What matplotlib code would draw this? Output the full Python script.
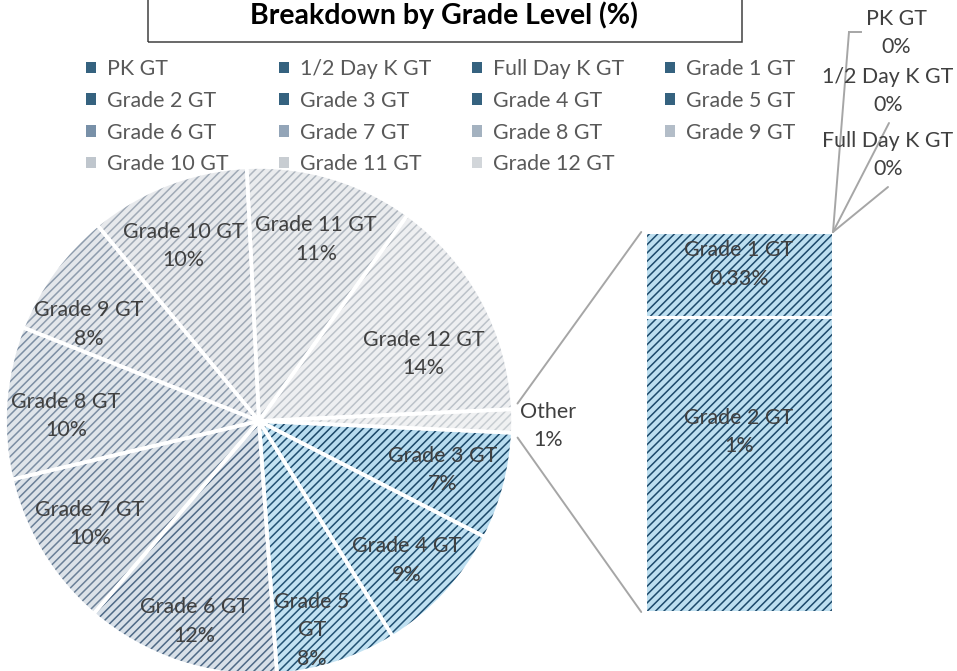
import numpy as np
import matplotlib
matplotlib.use("Agg")
import matplotlib.pyplot as plt
from matplotlib.patches import Rectangle, Patch, ConnectionPatch
from matplotlib.lines import Line2D

# ---------------- data ----------------
categories = ["PK GT", "1/2 Day K GT", "Full Day K GT", "Grade 1 GT", "Grade 2 GT",
              "Grade 3 GT", "Grade 4 GT", "Grade 5 GT", "Grade 6 GT", "Grade 7 GT",
              "Grade 8 GT", "Grade 9 GT", "Grade 10 GT", "Grade 11 GT", "Grade 12 GT"]
percent_values = [0.0, 0.0, 0.0, 0.33, 1.15,
                  6.8, 8.6, 7.7, 12.4, 10.0,
                  9.7, 8.0, 10.2, 10.7, 14.3]
n_bar = 5                      # first five categories go to the secondary bar ("Other")
other_label = "Other"
title = "Breakdown by Grade Level (%)"

# ---------------- style ----------------
W, H, DPI = 957, 671, 100
plt.rcParams['font.family'] = ['Lato', 'DejaVu Sans']
plt.rcParams['hatch.linewidth'] = 1.1
FS = 15.4
LS = 1.54
TXT = '#404040'
LEG_TXT = '#595959'
LINE = '#a6a6a6'
HATCH = '////'

bg = {c: '#bddff0' for c in categories[:5]}
fg = {c: '#1d4a6b' for c in categories[:5]}
bg.update({"Grade 3 GT": '#b8dcef', "Grade 4 GT": '#bfe0f1', "Grade 5 GT": '#c2e2f2',
           "Grade 6 GT": '#d8e0e8', "Grade 7 GT": '#dce2e8', "Grade 8 GT": '#e0e5ea',
           "Grade 9 GT": '#e4e7eb', "Grade 10 GT": '#e7e9ec', "Grade 11 GT": '#eaecee',
           "Grade 12 GT": '#eeeff1', other_label: '#f0f1f2'})
fg.update({"Grade 3 GT": '#1b4868', "Grade 4 GT": '#1f4e70', "Grade 5 GT": '#235374',
           "Grade 6 GT": '#4f6a86', "Grade 7 GT": '#6a7f97', "Grade 8 GT": '#7c8ea3',
           "Grade 9 GT": '#8e9cad', "Grade 10 GT": '#a0aab6', "Grade 11 GT": '#aeb6bf',
           "Grade 12 GT": '#bcc2c9', other_label: '#c8cdd2'})
legend_color = {c: '#35627f' for c in categories[:8]}
legend_color.update({"Grade 6 GT": '#7890a8', "Grade 7 GT": '#93a5b8', "Grade 8 GT": '#a4b2c0',
                     "Grade 9 GT": '#b3bdc8', "Grade 10 GT": '#bfc6cd', "Grade 11 GT": '#c8cdd2',
                     "Grade 12 GT": '#d2d6da'})

# label placement inside the pie (radius fraction, angular nudge in degrees clockwise)
label_r = [0.75, 0.80, 0.85, 0.83, 0.78, 0.76, 0.77, 0.75, 0.75, 0.70]
label_dtheta = [0, 0.8, 3.8, -0.5, 0, -2.7, -6.4, -2.2, 0.9, 6.3]
wrap_labels = {"Grade 5 GT"}

total = sum(percent_values)
bar_cats = categories[:n_bar]
bar_vals = percent_values[:n_bar]
pie_cats = categories[n_bar:] + [other_label]
pie_vals = percent_values[n_bar:] + [sum(bar_vals)]


def pct_text(v):
    p = v / total * 100
    if 0 < p < 0.5:
        return f"{p:.2f}%"
    return f"{p:.0f}%"


fig = plt.figure(figsize=(W / DPI, H / DPI), dpi=DPI)

# ---------------- pie ----------------
cx, cy, R = 259, 421, 254
ax = fig.add_axes([(cx - R) / W, (H - cy - R) / H, 2 * R / W, 2 * R / H])
start = -360.0 * pie_vals[-1] / total / 2
wedges, _ = ax.pie(pie_vals, startangle=start, counterclock=False,
                   colors=[bg[c] for c in pie_cats], wedgeprops=dict(linewidth=0))
for w, c in zip(wedges, pie_cats):
    w.set_hatch(HATCH)
    w.set_edgecolor(fg[c])
    w.set_linewidth(0)
ax.pie(pie_vals, startangle=start, counterclock=False,
       colors=['none'] * len(pie_vals), wedgeprops=dict(edgecolor='white', linewidth=2.6))
ax.set_xlim(-1, 1)
ax.set_ylim(-1, 1)
ax.set_aspect('equal')
ax.axis('off')

for i, (w, c, v) in enumerate(zip(wedges[:-1], pie_cats[:-1], pie_vals[:-1])):
    mid = np.radians((w.theta1 + w.theta2) / 2 - label_dtheta[i])
    name = c.replace(' GT', '\nGT') if c in wrap_labels else c
    ax.text(label_r[i] * np.cos(mid), label_r[i] * np.sin(mid), f"{name}\n{pct_text(v)}",
            ha='center', va='center', fontsize=FS, color=TXT, linespacing=LS)

ow = wedges[-1]
omid = np.radians((ow.theta1 + ow.theta2) / 2)
ax.text(1.138 * np.cos(omid), 1.138 * np.sin(omid) - 0.02, f"{other_label}\n{pct_text(pie_vals[-1])}",
        ha='center', va='center', fontsize=FS, color=TXT, linespacing=LS)

# ---------------- secondary bar ----------------
bx0, by0, bx1, by1 = 645, 232, 833, 612
ax2 = fig.add_axes([bx0 / W, (H - by1) / H, (bx1 - bx0) / W, (by1 - by0) / H])
bar_total = sum(bar_vals)
bottoms = {}
b = 0.0
for c, v in zip(reversed(bar_cats), reversed(bar_vals)):
    bottoms[c] = b
    b += v
for c, v in zip(bar_cats, bar_vals):
    ax2.bar(0, v, width=1, bottom=bottoms[c], color=bg[c], edgecolor=fg[c], linewidth=0, hatch=HATCH)
    ax2.bar(0, v, width=1, bottom=bottoms[c], color='none', edgecolor='white', linewidth=2.2)
ax2.set_xlim(-0.5, 0.5)
ax2.set_ylim(0, bar_total)
ax2.axis('off')

bar_label_pos = {"Grade 1 GT": 0.62, "Grade 2 GT": 0.61}
for c, v in zip(bar_cats, bar_vals):
    if v > 0:
        ax2.text(0, bottoms[c] + v * bar_label_pos[c], f"{c}\n{pct_text(v)}",
                 ha='center', va='center', fontsize=FS, color=TXT, linespacing=LS)

# connector lines pie -> bar
r_conn = 1.02
for ang, ybar in ((ow.theta2 + 1.2, bar_total), (ow.theta1 - 1.0, 0)):
    a = np.radians(ang)
    con = ConnectionPatch(xyA=(r_conn * np.cos(a), r_conn * np.sin(a)), coordsA=ax.transData,
                          xyB=(-0.52, ybar), coordsB=ax2.transData, color=LINE, lw=1.4)
    fig.add_artist(con)

# zero-value labels with leader lines (top-right)
zero_text_pos = [(896, 33), (888, 91), (888, 155)]
leader_end = [(849, 32), (889, 123), (888, 187)]
for c, v, (tx, ty), (lx, ly) in zip(bar_cats[:3], bar_vals[:3], zero_text_pos, leader_end):
    fig.text(tx / W, 1 - ty / H, f"{c}\n{pct_text(v)}", ha='center', va='center',
             fontsize=FS, color=TXT, linespacing=LS)
    con = ConnectionPatch(xyA=(0.5, bar_total), coordsA=ax2.transData,
                          xyB=(lx / W, 1 - ly / H), coordsB=fig.transFigure, color=LINE, lw=1.4)
    fig.add_artist(con)
fig.add_artist(Line2D([849 / W, 861 / W], [1 - 32 / H, 1 - 32 / H], transform=fig.transFigure,
                      color=LINE, lw=1.4))

# ---------------- legend (4 columns, row-major) ----------------
ncol = 4
col_x = [86, 279, 472, 665]
for j in range(ncol):
    cats = categories[j::ncol]
    handles = [Patch(facecolor=legend_color[c], edgecolor='none') for c in cats]
    fig.legend(handles, cats, loc='upper left', bbox_to_anchor=(col_x[j] / W, 1 - 59 / H),
               frameon=False, borderpad=0, borderaxespad=0, fontsize=FS,
               handlelength=0.45, handleheight=0.45, handletextpad=0.55,
               labelspacing=0.55, labelcolor=LEG_TXT)

# ---------------- title box ----------------
fig.add_artist(Rectangle((148 / W, 1 - 42 / H), (742 - 148) / W, 60 / H, transform=fig.transFigure,
                         fill=False, edgecolor='#404040', linewidth=1.1))
fig.text(444 / W, 1 - 15 / H, title, ha='center', va='center', fontsize=20.5,
         fontweight='bold', color='black')

fig.savefig("out.png", dpi=DPI)
